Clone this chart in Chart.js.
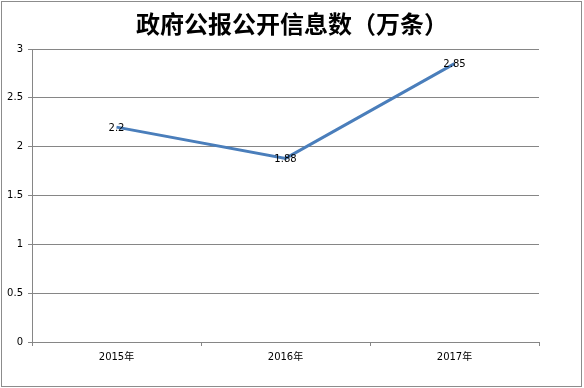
<!DOCTYPE html>
<html>
<head>
<meta charset="utf-8">
<script src="https://cdn.jsdelivr.net/npm/chart.js@4/dist/chart.umd.min.js"></script>
<style>
  html, body { margin: 0; padding: 0; background: #fff; }
  #wrap { position: relative; width: 584px; height: 388px; }
  #frame { position: absolute; left: 1px; top: 1px; width: 579px; height: 384px; border: 1px solid #8c8c8c; pointer-events: none; }
</style>
</head>
<body>
<div id="wrap">
  <canvas id="myChart" width="584" height="388"></canvas>
  <div id="frame"></div>
</div>
<script>
const categories = ["2015年", "2016年", "2017年"];
const values = [2.2, 1.88, 2.85];
const yTicks = [0, 0.5, 1, 1.5, 2, 2.5, 3];
const titleText = "政府公报公开信息数（万条）";

const gridColor = "#868686";
const lineColor = "#4a7ebb";
const labelFont = { family: "DejaVu Sans, Noto Sans CJK SC", size: 10 };

// title centred on the whole picture, value labels centred on each point
const extras = {
    id: "extras",
    afterDraw(chart) {
        const ctx = chart.ctx;
        ctx.save();
        ctx.font = "bold 24px Noto Sans CJK SC";
        ctx.fillStyle = "#000";
        ctx.textAlign = "center";
        ctx.textBaseline = "middle";
        ctx.fillText(titleText, 292, 24);
        ctx.restore();
    },
    afterDatasetsDraw(chart) {
        const ctx = chart.ctx;
        const meta = chart.getDatasetMeta(0);
        ctx.save();
        ctx.font = "10px DejaVu Sans";
        ctx.fillStyle = "#000";
        ctx.textAlign = "center";
        ctx.textBaseline = "middle";
        meta.data.forEach((pt, i) => {
            ctx.fillText(String(values[i]), pt.x, pt.y + 1);
        });
        ctx.restore();
    }
};

const ctx = document.getElementById("myChart").getContext("2d");
const myChart = new Chart(ctx, {
    type: "line",
    data: {
        labels: categories,
        datasets: [{
            data: values,
            borderColor: lineColor,
            borderWidth: 3,
            pointRadius: 0,
            tension: 0,
        }],
    },
    options: {
        responsive: false,
        animation: false,
        layout: { padding: { left: 0, right: 45, top: 49, bottom: 0 } },
        plugins: {
            legend: { display: false },
            tooltip: { enabled: false },
            title: { display: false },
        },
        scales: {
            x: {
                offset: true,
                grid: {
                    offset: true,
                    drawOnChartArea: false,
                    drawTicks: true,
                    tickLength: 4,
                    color: gridColor,
                },
                border: { color: gridColor, width: 1 },
                ticks: { color: "#000", font: labelFont, padding: 5, maxRotation: 0 },
                afterFit(scale) { scale.height = 46; },
            },
            y: {
                min: 0,
                max: 3,
                afterBuildTicks(scale) { scale.ticks = yTicks.map(v => ({ value: v })); },
                grid: { color: gridColor, tickLength: 4 },
                border: { color: gridColor, width: 1 },
                ticks: {
                    color: "#000",
                    font: labelFont,
                    padding: 5,
                    callback: (v) => String(v),
                },
                afterFit(scale) { scale.width = 32; },
            },
        },
    },
    plugins: [extras],
});
</script>
</body>
</html>
